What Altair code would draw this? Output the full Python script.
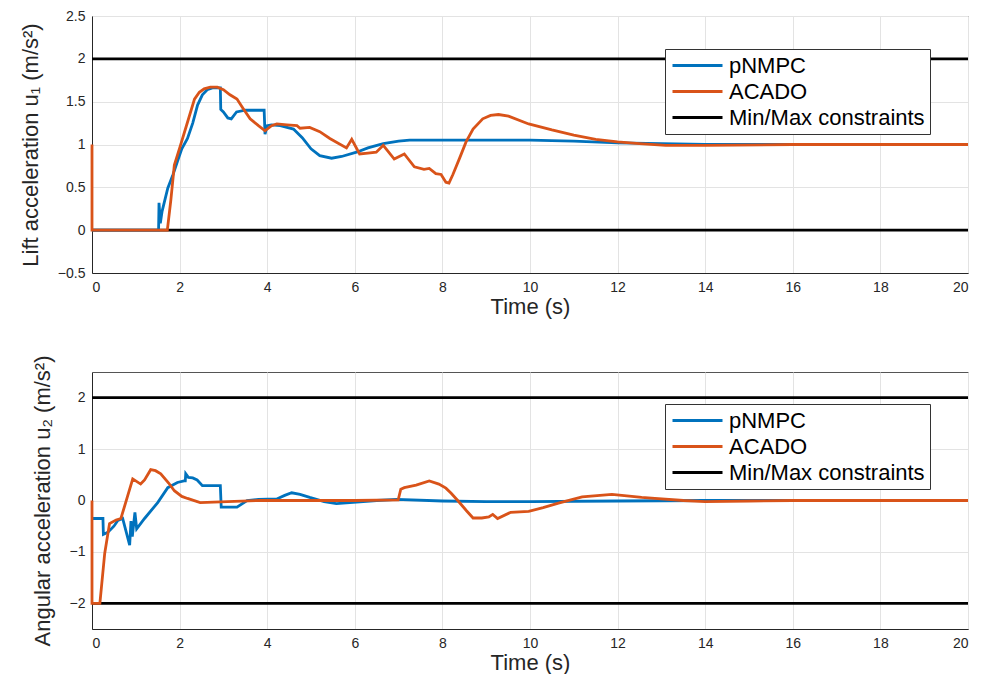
import altair as alt
import pandas as pd

# ---------------- data ----------------
SERIES = ["pNMPC", "ACADO", "Min/Max constraints"]
COLORS = ["#0072BD", "#D95319", "#000000"]
X_TICKS = [0, 2, 4, 6, 8, 10, 12, 14, 16, 18, 20]

# Top panel: lift acceleration u1
u1_pnmpc_t = [0, 1.52, 1.53, 1.56, 1.6, 1.73, 1.85, 1.95, 2.05, 2.18, 2.3, 2.41, 2.52, 2.63, 2.75,
              2.93, 2.94, 3.0, 3.1, 3.18, 3.3, 3.5, 3.93, 3.95, 4.0, 4.1, 4.3, 4.6, 4.8, 5.0, 5.2,
              5.47, 5.7, 6.04, 6.3, 6.65, 7.0, 7.25, 8, 9, 10, 11, 12, 13, 14, 16, 18, 20]
u1_pnmpc_v = [0, 0, 0.32, 0.08, 0.22, 0.49, 0.65, 0.8, 0.95, 1.07, 1.25, 1.46, 1.58, 1.64, 1.66,
              1.66, 1.41, 1.38, 1.31, 1.30, 1.38, 1.40, 1.40, 1.12, 1.22, 1.23, 1.22, 1.18, 1.08, 0.95, 0.87,
              0.84, 0.86, 0.91, 0.96, 1.01, 1.04, 1.05, 1.05, 1.05, 1.05, 1.04, 1.02, 1.01, 1.0, 1.0, 1.0, 1.0]

u1_acado_t = [0, 0, 1.72, 1.8, 1.88, 2.02, 2.18, 2.34, 2.45, 2.56, 2.7, 2.86, 3.0, 3.15, 3.31, 3.45,
              3.61, 3.8, 3.95, 4.1, 4.22, 4.45, 4.68, 4.75, 4.97, 5.2, 5.43, 5.81, 5.93, 6.11, 6.3,
              6.49, 6.65, 6.9, 7.13, 7.36, 7.58, 7.7, 7.85, 7.97, 8.08, 8.15, 8.24, 8.4, 8.54, 8.7,
              8.92, 9.1, 9.28, 9.51, 9.97, 10.5, 11.0, 11.5, 12.0, 12.5, 13.1, 14, 16, 18, 20]
u1_acado_v = [1, 0, 0, 0.35, 0.76, 0.99, 1.26, 1.53, 1.61, 1.65, 1.67, 1.67, 1.64, 1.58, 1.53, 1.42,
              1.30, 1.22, 1.16, 1.22, 1.24, 1.23, 1.22, 1.19, 1.20, 1.15, 1.07, 0.96, 1.06, 0.89, 0.90,
              0.91, 0.99, 0.83, 0.89, 0.74, 0.71, 0.72, 0.66, 0.65, 0.56, 0.55, 0.65, 0.85, 1.03, 1.18,
              1.30, 1.34, 1.35, 1.33, 1.24, 1.17, 1.11, 1.06, 1.03, 1.01, 0.99, 0.99, 1.0, 1.0, 1.0]

u1_limits = [0, 2]

# Bottom panel: angular acceleration u2
u2_pnmpc_t = [0, 0.25, 0.26, 0.36, 0.5, 0.59, 0.7, 0.86, 0.89, 0.92, 0.98, 1.02, 1.2, 1.5, 1.73,
              1.95, 2.1, 2.13, 2.14, 2.2, 2.3, 2.4, 2.52, 2.93, 2.95, 3.31, 3.54, 3.8, 4.22, 4.4,
              4.56, 4.75, 4.97, 5.3, 5.58, 6.04, 6.5, 6.95, 8, 9, 10, 12, 14, 16, 18, 20]
u2_pnmpc_v = [-0.35, -0.35, -0.66, -0.62, -0.5, -0.39, -0.35, -0.87, -0.4, -0.7, -0.23, -0.55, -0.35,
              -0.04, 0.25, 0.35, 0.38, 0.38, 0.52, 0.45, 0.44, 0.40, 0.29, 0.29, -0.13, -0.13, 0.0,
              0.02, 0.03, 0.10, 0.15, 0.12, 0.06, -0.02, -0.06, -0.03, 0.0, 0.02, -0.01, -0.02, -0.02,
              -0.01, 0.0, 0.0, 0.0, 0.0]

u2_acado_t = [0, 0, 0.18, 0.29, 0.4, 0.55, 0.66, 0.93, 1.11, 1.2, 1.34, 1.45, 1.57, 1.75, 1.88,
              2.05, 2.18, 2.47, 3.09, 3.84, 5, 6, 6.99, 7.05, 7.13, 7.4, 7.7, 7.92, 8.08, 8.2, 8.35,
              8.55, 8.7, 8.9, 9.06, 9.15, 9.26, 9.56, 9.97, 10.3, 10.65, 11.19, 11.87, 12.55, 12.85,
              13.5, 14, 15, 16, 18, 20]
u2_acado_v = [0, -2, -2, -1.03, -0.45, -0.38, -0.35, 0.42, 0.32, 0.40, 0.60, 0.58, 0.52, 0.34, 0.19,
              0.08, 0.04, -0.04, -0.02, 0.0, 0.0, 0.0, 0.01, 0.22, 0.25, 0.3, 0.38, 0.32, 0.24, 0.14,
              0.0, -0.2, -0.34, -0.34, -0.32, -0.27, -0.35, -0.23, -0.21, -0.14, -0.05, 0.07, 0.12,
              0.06, 0.04, 0.0, -0.02, -0.01, 0.0, 0.0, 0.0]

u2_limits = [-2, 2]

FONT = "Liberation Sans"
PLOT_W = 876
PLOT_H = 257


def series_df(name, ts, vs, seg="a"):
    return pd.DataFrame({"t": ts, "v": vs, "series": name, "seg": seg, "i": range(len(ts))})


def panel(p_t, p_v, a_t, a_v, limits, ydom, yticks, ytitle, legend_y):
    lim_rows = []
    for k, L in enumerate(limits):
        lim_rows.append(series_df(SERIES[2], [X_TICKS[0], X_TICKS[-1]], [L, L], seg=f"l{k}"))
    df_lim = pd.concat(lim_rows, ignore_index=True)
    df_p = series_df(SERIES[0], p_t, p_v)
    df_a = series_df(SERIES[1], a_t, a_v)

    x = alt.X("t:Q", scale=alt.Scale(domain=[0, 20], nice=False),
              axis=alt.Axis(values=X_TICKS, title="Time (s)", format="~g"))
    y = alt.Y("v:Q", scale=alt.Scale(domain=ydom, nice=False, zero=False),
              axis=alt.Axis(values=yticks, title=ytitle, format="~g"))
    legend = alt.Legend(orient="none", legendX=573, legendY=legend_y, title=None,
                        symbolType="M-2.5,0H2.5", symbolSize=400, symbolStrokeWidth=2.8,
                        symbolFillColor="transparent",
                        labelFontSize=22, labelFont=FONT, labelColor="#000000", labelLimit=400,
                        strokeColor="#333333", fillColor="#ffffff", padding=5,
                        rowPadding=3, labelOffset=20, symbolOffset=16)
    color = alt.Color("series:N", scale=alt.Scale(domain=SERIES, range=COLORS), legend=legend)

    def layer(df):
        return alt.Chart(df).mark_line(strokeWidth=2.8).encode(
            x=x, y=y, color=color, detail="seg:N", order="i:Q")

    return alt.layer(layer(df_lim), layer(df_p), layer(df_a)).properties(width=PLOT_W, height=PLOT_H)


top = panel(u1_pnmpc_t, u1_pnmpc_v, u1_acado_t, u1_acado_v, u1_limits, [-0.5, 2.5],
            [-0.5, 0, 0.5, 1, 1.5, 2, 2.5], "Lift acceleration u\u2081 (m/s\u00b2)", 33)
bottom = panel(u2_pnmpc_t, u2_pnmpc_v, u2_acado_t, u2_acado_v, u2_limits, [-2.5, 2.5],
               [-2, -1, 0, 1, 2], "Angular acceleration u\u2082 (m/s\u00b2)", 32)

chart = alt.vconcat(top, bottom, spacing=99, bounds="flush").properties(
    padding={"left": 10, "top": 0, "right": 0, "bottom": 0}, background="white"
).resolve_legend(color="independent").configure_axis(
    labelFont=FONT, labelFontSize=14, labelColor="#262626", labelPadding=7,
    titleFont=FONT, titleFontSize=22, titleFontWeight="normal", titleColor="#262626",
    ticks=False, domainColor="#262626", domainWidth=1,
    gridColor="#e3e3e3", gridWidth=1,
).configure_axisY(titlePadding=15).configure_axisX(titlePadding=2).configure_view(
    stroke="#555555", strokeWidth=1
)

chart.save("out.html", embed_options={"renderer": "svg", "actions": False})
